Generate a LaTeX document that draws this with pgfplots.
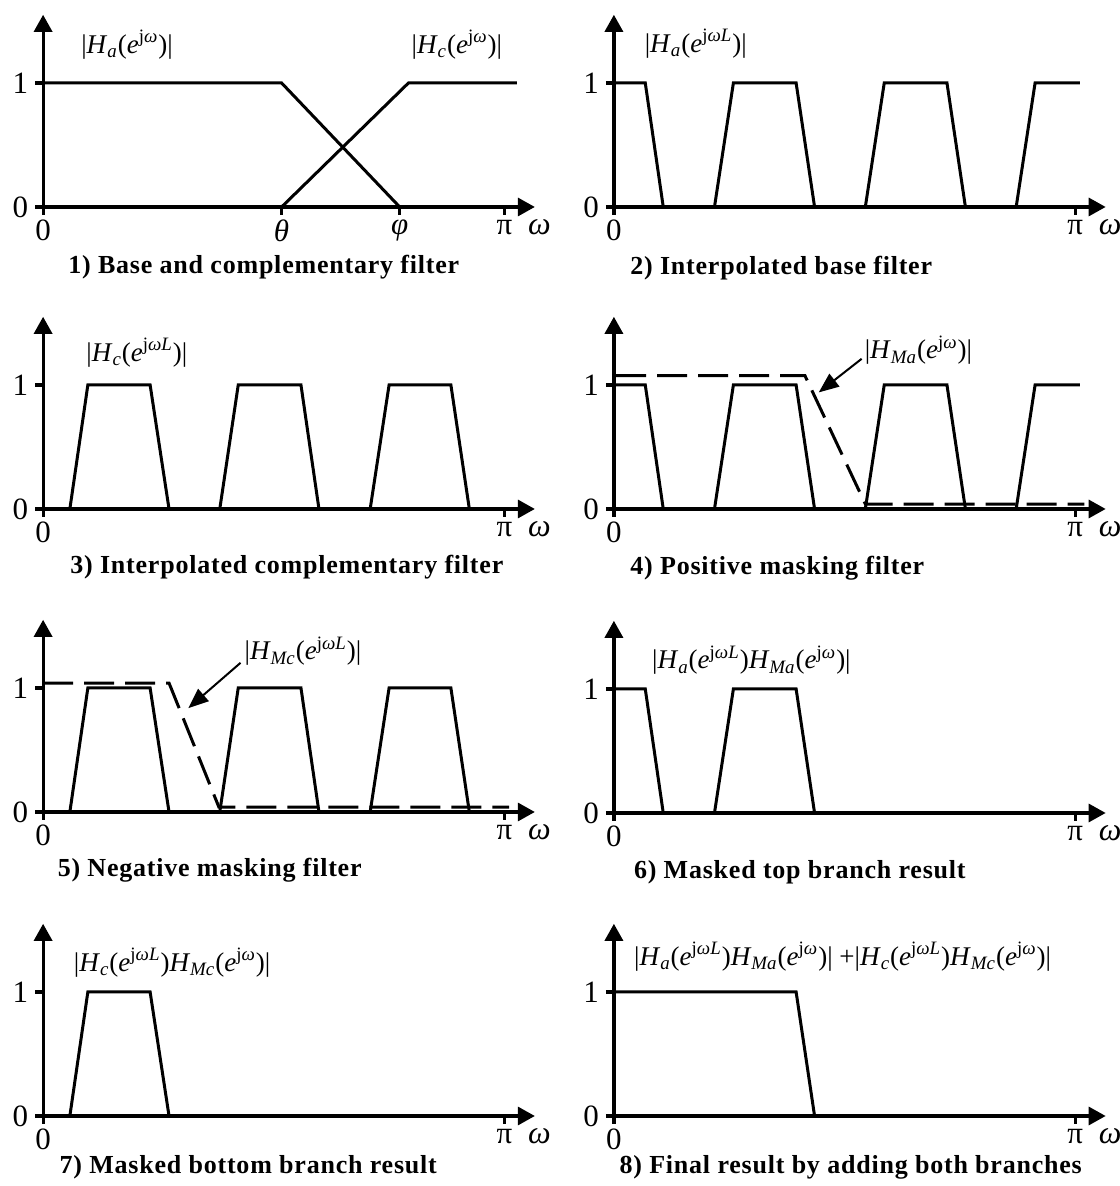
\documentclass[border=0pt]{standalone}
\usepackage{fontspec}
\setmainfont{Liberation Serif}
\newfontfamily\titlefont[LetterSpace=3]{Liberation Serif}
\usepackage{pgfplots}
\pgfplotsset{compat=1.18}
\usetikzlibrary{arrows.meta}

\newcommand{\ejw}{\textit{e}\textsuperscript{j\textit{ω}}}
\newcommand{\ejwL}{\textit{e}\textsuperscript{j\textit{ωL}}}
\newcommand{\Hs}[1]{\textit{H}\textsubscript{\textit{#1}}}

\tikzset{
  lab/.style={anchor=west, inner sep=0pt, font=\fontsize{13.5}{15}\selectfont},
  sol/.style={line width=1.5pt, black, solid, mark=none},
  dsh/.style={line width=1.5pt, black, mark=none, dash pattern=on 15pt off 5.5pt},
}
\pgfplotsset{
  panel/.style={
    x=230.65pt, y=62pt,
    xmin=0, xmax=1.066, ymin=0, ymax=1.55,
    anchor=south west,
    axis lines=left,
    axis line style={line width=1.6pt, black, -{Triangle[length=8.5pt,width=9pt]}},
    xtick={0,1}, xticklabels={0,π},
    ytick={0,1}, yticklabels={0,1},
    tick align=outside,
    major tick length=4pt,
    tick style={line width=1.6pt, black},
    ticklabel style={font=\fontsize{15.5}{17}\selectfont},
    xticklabel style={yshift=1pt},
    clip=false,
  },
}
\newcommand{\omegalabel}{\node[font=\fontsize{16}{18}\selectfont] at (axis cs:1.076,-0.165) {\textit{ω}};}
\newcommand{\ptitle}[3]{\node[anchor=west, inner sep=0pt, font=\fontsize{13}{15}\titlefont\bfseries] at (#1,#2) {#3};}

\begin{document}
\begin{tikzpicture}
\useasboundingbox (0,0) rectangle (559.5pt,593pt);

% 1
\begin{axis}[panel, at={(21.55pt,489.5pt)},
  xtick={0,0.517,0.773,1}, xticklabels={0,\textit{θ},\textit{φ},π}]
\addplot[sol] coordinates {(0,1) (0.517,1) (0.773,0)};
\addplot[sol] coordinates {(0.517,0) (0.792,1) (1.027,1)};
\node[lab] at (axis cs:0.082,1.31) {|\Hs{a}(\ejw)|};
\node[lab] at (axis cs:0.798,1.31) {|\Hs{c}(\ejw)|};
\omegalabel
\end{axis}

% 2
\begin{axis}[panel, at={(306.95pt,489.5pt)}]
\addplot[sol] coordinates {(0,1) (0.068,1) (0.107,0) (0.218,0) (0.259,1) (0.395,1) (0.435,0) (0.545,0) (0.586,1) (0.722,1) (0.762,0) (0.872,0) (0.913,1) (1.01,1)};
\node[lab] at (axis cs:0.066,1.317) {|\Hs{a}(\ejwL)|};
\omegalabel
\end{axis}

% 3
\begin{axis}[panel, at={(21.55pt,338.5pt)}]
\addplot[sol] coordinates {(0,0) (0.058,0) (0.097,1) (0.232,1) (0.273,0) (0.383,0) (0.423,1) (0.559,1) (0.598,0) (0.709,0) (0.750,1) (0.884,1) (0.924,0) (1.0,0)};
\node[lab] at (axis cs:0.093,1.259) {|\Hs{c}(\ejwL)|};
\omegalabel
\end{axis}

% 4
\begin{axis}[panel, at={(306.95pt,338.5pt)}]
\addplot[sol] coordinates {(0,1) (0.068,1) (0.107,0) (0.218,0) (0.259,1) (0.395,1) (0.435,0) (0.545,0) (0.586,1) (0.722,1) (0.762,0) (0.872,0) (0.913,1) (1.01,1)};
\addplot[dsh] coordinates {(0.005,1.076) (0.414,1.076) (0.545,0.04) (1.02,0.04)};
\draw[line width=1pt, -{Triangle[length=10pt,width=8pt]}] (axis cs:0.537,1.211) -- (axis cs:0.444,0.940);
\node[lab] at (axis cs:0.543,1.279) {|\Hs{Ma}(\ejw)|};
\omegalabel
\end{axis}

% 5
\begin{axis}[panel, at={(21.55pt,187pt)}]
\addplot[sol] coordinates {(0,0) (0.058,0) (0.097,1) (0.232,1) (0.273,0) (0.383,0) (0.423,1) (0.559,1) (0.598,0) (0.709,0) (0.750,1) (0.884,1) (0.924,0) (1.0,0)};
\addplot[dsh] coordinates {(0,1.04) (0.273,1.04) (0.381,0.04) (1.01,0.04)};
\draw[line width=1pt, -{Triangle[length=10pt,width=8pt]}] (axis cs:0.428,1.203) -- (axis cs:0.315,0.838);
\node[lab] at (axis cs:0.436,1.297) {|\Hs{Mc}(\ejwL)|};
\omegalabel
\end{axis}

% 6
\begin{axis}[panel, at={(306.95pt,186.5pt)}]
\addplot[sol] coordinates {(0,1) (0.068,1) (0.107,0) (0.218,0) (0.259,1) (0.395,1) (0.435,0)};
\node[lab] at (axis cs:0.082,1.231) {|\Hs{a}(\ejwL)\Hs{Ma}(\ejw)|};
\omegalabel
\end{axis}

% 7
\begin{axis}[panel, at={(21.55pt,35pt)}]
\addplot[sol] coordinates {(0,0) (0.058,0) (0.097,1) (0.232,1) (0.273,0)};
\node[lab] at (axis cs:0.066,1.235) {|\Hs{c}(\ejwL)\Hs{Mc}(\ejw)|};
\omegalabel
\end{axis}

% 8
\begin{axis}[panel, at={(306.95pt,35pt)}]
\addplot[sol] coordinates {(0,1) (0.395,1) (0.435,0)};
\node[lab] at (axis cs:0.043,1.285) {|\Hs{a}(\ejwL)\Hs{Ma}(\ejw)| +|\Hs{c}(\ejwL)\Hs{Mc}(\ejw)|};
\omegalabel
\end{axis}

\ptitle{34pt}{459.5pt}{1) Base and complementary filter}
\ptitle{315pt}{459pt}{2) Interpolated base filter}
\ptitle{35pt}{309.5pt}{3) Interpolated complementary filter}
\ptitle{315pt}{309pt}{4) Positive masking filter}
\ptitle{28.7pt}{158pt}{5) Negative masking filter}
\ptitle{316.8pt}{157pt}{6) Masked top branch result}
\ptitle{29.6pt}{9.5pt}{7) Masked bottom branch result}
\ptitle{309.6pt}{9.5pt}{8) Final result by adding both branches}
\end{tikzpicture}
\end{document}
